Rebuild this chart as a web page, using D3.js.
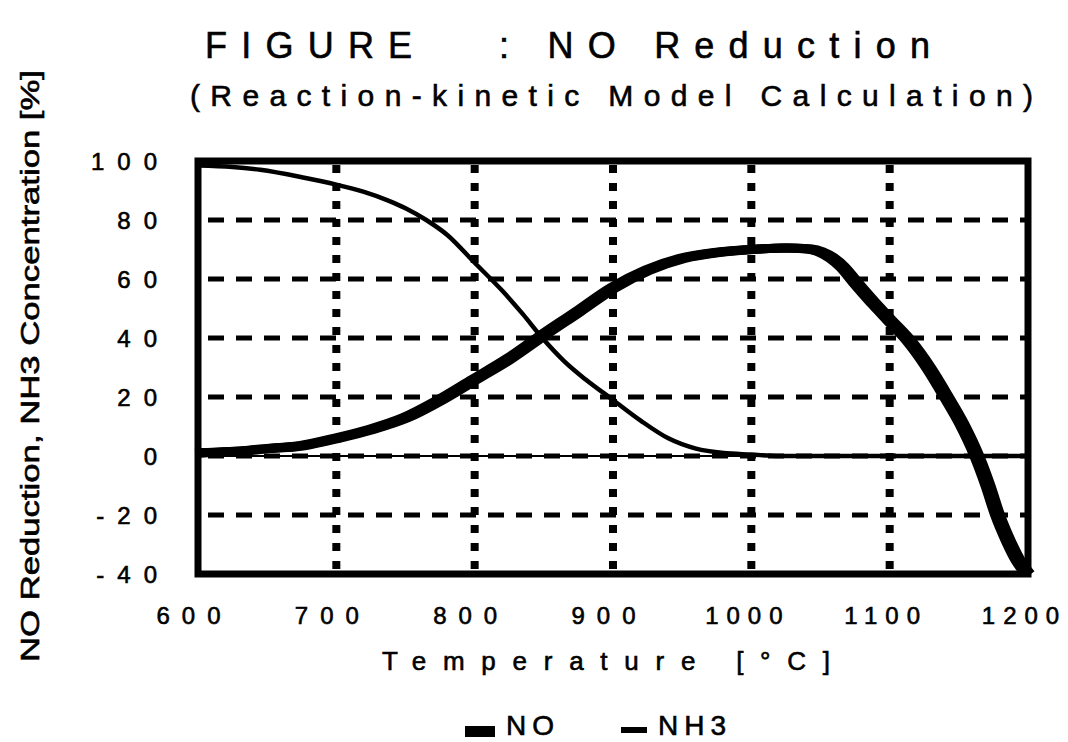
<!DOCTYPE html>
<html>
<head>
<meta charset="utf-8">
<script src="https://cdn.jsdelivr.net/npm/d3@7"></script>
<style>
  body { margin: 0; background: #fff; }
  text { font-family: "Liberation Sans", Arial, Helvetica, sans-serif; fill: #000; stroke: #000; stroke-width: 0.6px; }
</style>
</head>
<body>
<svg id="chart" width="1068" height="742"></svg>
<script>
// NO reduction (%) against temperature (°C)
const noTemps  = [600, 625, 650, 675, 700, 725, 750, 775, 800, 825, 848, 875, 900, 925, 950, 975, 1000, 1025, 1042, 1050, 1058, 1066, 1075, 1090, 1100, 1114, 1128, 1141, 1152, 1163, 1171, 1178, 1186, 1193, 1200];
const noValues = [1, 1.5, 2.5, 3.5, 6, 9, 13, 19, 26, 33, 40.5, 49, 57, 63, 67, 69, 70, 70.5, 70.2, 69.2, 67.2, 64, 59, 51, 46, 39, 30, 20, 11, 0, -10, -20, -29, -35.5, -40];

// NH3 concentration (%) against temperature (°C)
const nh3Temps  = [600, 625, 645, 675, 700, 720, 738, 750, 765, 780, 800, 820, 835, 848, 865, 880, 900, 920, 940, 960, 980, 1000, 1020, 1100, 1200];
const nh3Values = [98.5, 98, 97, 94.5, 92, 89.5, 86.5, 84, 80, 75, 65.5, 56, 48, 40.5, 32, 26, 19, 12, 6, 2.5, 1, 0.5, 0, 0, 0];

const xTicks = [600, 700, 800, 900, 1000, 1100, 1200];
const yTicks = [-40, -20, 0, 20, 40, 60, 80, 100];
const seriesNames = ["NO", "NH3"];

const svg = d3.select("#chart");
const x = d3.scaleLinear().domain([600, 1200]).range([198, 1028]);
const y = d3.scaleLinear().domain([-40, 100]).range([574, 161]);

// titles
svg.append("text")
  .attr("x", 205).attr("y", 58)
  .attr("font-size", 36)
  .attr("textLength", 725).attr("lengthAdjust", "spacing")
  .style("white-space", "pre")
  .text("FIGURE   : NO Reduction");

svg.append("text")
  .attr("x", 190).attr("y", 106)
  .attr("font-size", 30)
  .attr("textLength", 843).attr("lengthAdjust", "spacing")
  .text("(Reaction-kinetic Model Calculation)");

// grid: dashed horizontals, dotted verticals
const grid = svg.append("g");
grid.selectAll("line.h")
  .data(yTicks.filter(v => v > -40 && v < 100))
  .join("line")
  .attr("class", "h")
  .attr("x1", x(600)).attr("x2", x(1200))
  .attr("y1", d => y(d)).attr("y2", d => y(d))
  .attr("stroke", "#000").attr("stroke-width", 5)
  .attr("stroke-dasharray", "16,12").attr("stroke-dashoffset", -10);

grid.selectAll("line.v")
  .data(xTicks.filter(v => v > 600 && v < 1200))
  .join("line")
  .attr("class", "v")
  .attr("x1", d => x(d)).attr("x2", d => x(d))
  .attr("y1", y(100)).attr("y2", y(-40))
  .attr("stroke", "#000").attr("stroke-width", 8)
  .attr("stroke-dasharray", "8,10").attr("stroke-dashoffset", -4);

// thin solid zero line
svg.append("line")
  .attr("x1", x(600)).attr("x2", x(1200))
  .attr("y1", y(0)).attr("y2", y(0))
  .attr("stroke", "#000").attr("stroke-width", 2);

// plot frame
svg.append("rect")
  .attr("x", x(600)).attr("y", y(100))
  .attr("width", x(1200) - x(600)).attr("height", y(-40) - y(100))
  .attr("fill", "none").attr("stroke", "#000").attr("stroke-width", 7);

// curves
const line = d3.line().curve(d3.curveMonotoneX).x(d => x(d[0])).y(d => y(d[1]));
const noData = d3.zip(noTemps, noValues);
const nh3Data = d3.zip(nh3Temps, nh3Values);

svg.append("path").datum(nh3Data)
  .attr("d", line).attr("fill", "none")
  .attr("stroke", "#000").attr("stroke-width", 4.5);

// NO curve drawn with a wide flat pen: the same path stroked at small horizontal offsets
svg.append("g").selectAll("path")
  .data([-3, 0, 3])
  .join("path")
  .attr("transform", dx => `translate(${dx},0)`)
  .attr("d", line(noData))
  .attr("fill", "none")
  .attr("stroke", "#000").attr("stroke-width", 9)
  .attr("stroke-linejoin", "round");

// y axis labels
const yAxis = d3.axisLeft(y).tickValues(yTicks).tickFormat(d => String(d)).tickSize(0).tickPadding(0);
const gy = svg.append("g").attr("transform", "translate(170,0)").call(yAxis);
gy.select(".domain").remove();
gy.selectAll("text")
  .attr("font-size", 24)
  .attr("letter-spacing", 13)
  .attr("dy", "0.35em")
  .style("font-family", "'Liberation Sans', Arial, sans-serif")
  .attr("fill", "#000");

// x axis labels
const xAxis = d3.axisBottom(x).tickValues(xTicks).tickFormat(d3.format("d")).tickSize(0).tickPadding(0);
const gx = svg.append("g").attr("transform", "translate(-4,607)").call(xAxis);
gx.select(".domain").remove();
gx.selectAll("text")
  .attr("font-size", 24)
  .attr("letter-spacing", d => d >= 1000 ? 8 : 12)
  .attr("dy", "0.71em")
  .style("font-family", "'Liberation Sans', Arial, sans-serif")
  .attr("fill", "#000");

// axis titles
svg.append("text")
  .attr("x", 382).attr("y", 670)
  .attr("font-size", 26)
  .attr("textLength", 448).attr("lengthAdjust", "spacing")
  .text("Temperature [°C]");

svg.append("text")
  .attr("transform", "translate(39,662) rotate(-90)")
  .attr("font-size", 26)
  .attr("textLength", 592).attr("lengthAdjust", "spacingAndGlyphs")
  .text("NO Reduction, NH3 Concentration [%]");

// legend
const legend = svg.append("g");
const legendItems = [
  { name: seriesNames[0], x: 465, w: 30, h: 11, ty: 726 },
  { name: seriesNames[1], x: 621, w: 26, h: 6, ty: 727 }
];
legend.selectAll("rect")
  .data(legendItems).join("rect")
  .attr("x", d => d.x).attr("y", d => d.ty)
  .attr("width", d => d.w).attr("height", d => d.h)
  .attr("fill", "#000");
legend.selectAll("text")
  .data(legendItems).join("text")
  .attr("x", d => d.x + d.w + 11).attr("y", 735)
  .attr("font-size", 28)
  .attr("letter-spacing", 6)
  .text(d => d.name);
</script>
</body>
</html>
